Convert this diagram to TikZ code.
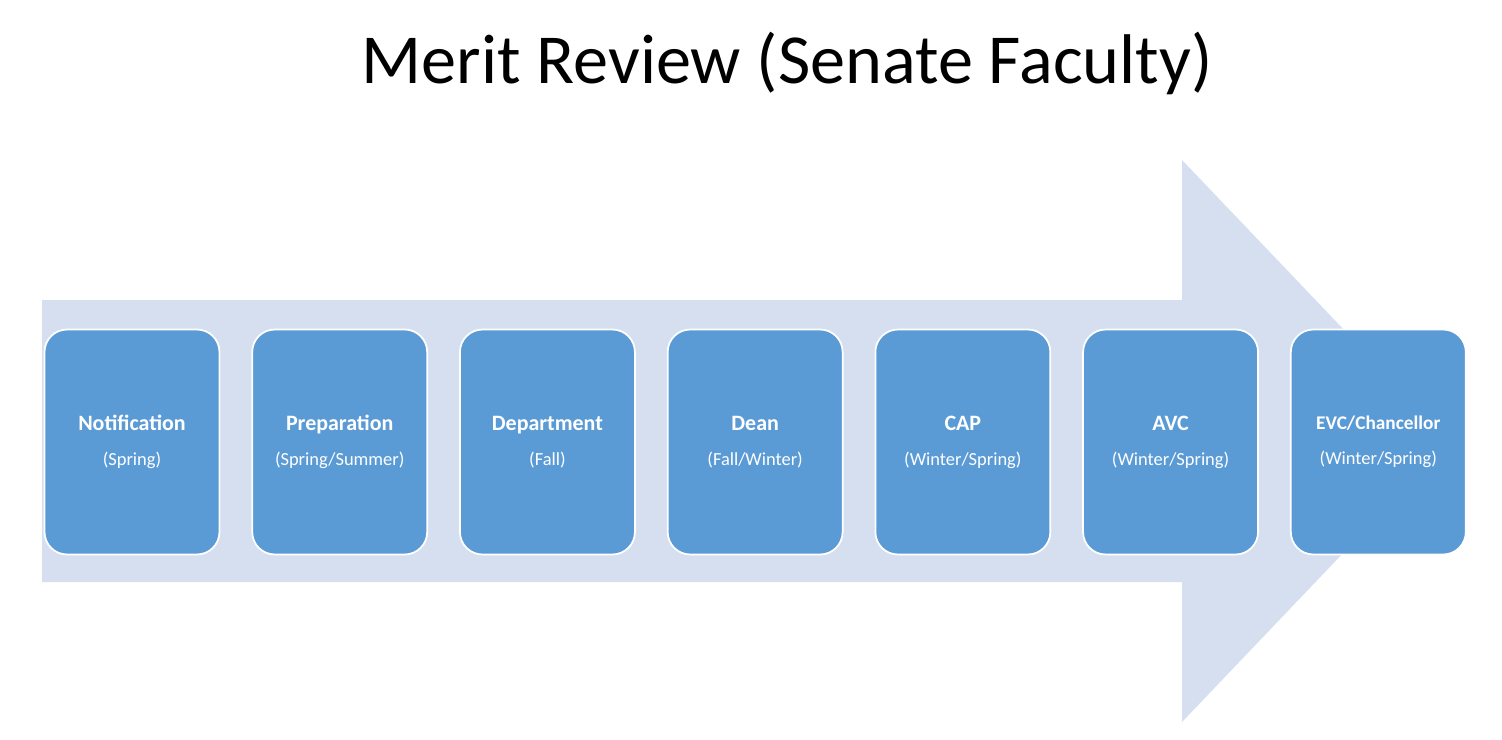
\documentclass[tikz,border=0pt]{standalone}
\usepackage{fontspec}
\setmainfont{Carlito}
\usetikzlibrary{positioning}
\definecolor{arrowblue}{HTML}{D5DFEF}
\definecolor{stepblue}{HTML}{5B9BD5}

\begin{document}
\begin{tikzpicture}[
    x=0.02cm, y=-0.02cm,
    stage/.style={rectangle, rounded corners=0.45cm, draw=white, line width=1pt,
                 fill=stepblue, text=white, minimum width=3.5cm,
                 minimum height=4.5cm, align=center, inner sep=0pt},
    title/.style={font=\fontsize{40}{46}\selectfont}
]
    \useasboundingbox (0, 0) rectangle (1502, 740);

    % === Big arrow in the background ===
    \fill[arrowblue] (42, 300) -- (1182, 300) -- (1182, 160) -- (1450, 441)
        -- (1182, 722) -- (1182, 582) -- (42, 582) -- cycle;

    \node[title] (head) at (787, 63) {Merit Review (Senate Faculty)};

    % === Stages ===
    \node[stage] (s1) at (132, 442)
        {\textbf{\fontsize{12.5}{15}\selectfont Notification}\\[8pt]{\fontsize{10.5}{12}\selectfont (Spring)}};
    \node[stage, right=0.62cm of s1] (s2)
        {\textbf{\fontsize{12.5}{15}\selectfont Preparation}\\[8pt]{\fontsize{10.5}{12}\selectfont (Spring/Summer)}};
    \node[stage, right=0.62cm of s2] (s3)
        {\textbf{\fontsize{12.5}{15}\selectfont Department}\\[8pt]{\fontsize{10.5}{12}\selectfont (Fall)}};
    \node[stage, right=0.62cm of s3] (s4)
        {\textbf{\fontsize{12.5}{15}\selectfont Dean}\\[8pt]{\fontsize{10.5}{12}\selectfont (Fall/Winter)}};
    \node[stage, right=0.62cm of s4] (s5)
        {\textbf{\fontsize{12.5}{15}\selectfont CAP}\\[8pt]{\fontsize{10.5}{12}\selectfont (Winter/Spring)}};
    \node[stage, right=0.62cm of s5] (s6)
        {\textbf{\fontsize{12.5}{15}\selectfont AVC}\\[8pt]{\fontsize{10.5}{12}\selectfont (Winter/Spring)}};
    \node[stage, right=0.62cm of s6] (s7)
        {\textbf{\fontsize{11}{13}\selectfont EVC/Chancellor}\\[8pt]{\fontsize{10.5}{12}\selectfont (Winter/Spring)}};
\end{tikzpicture}
\end{document}
